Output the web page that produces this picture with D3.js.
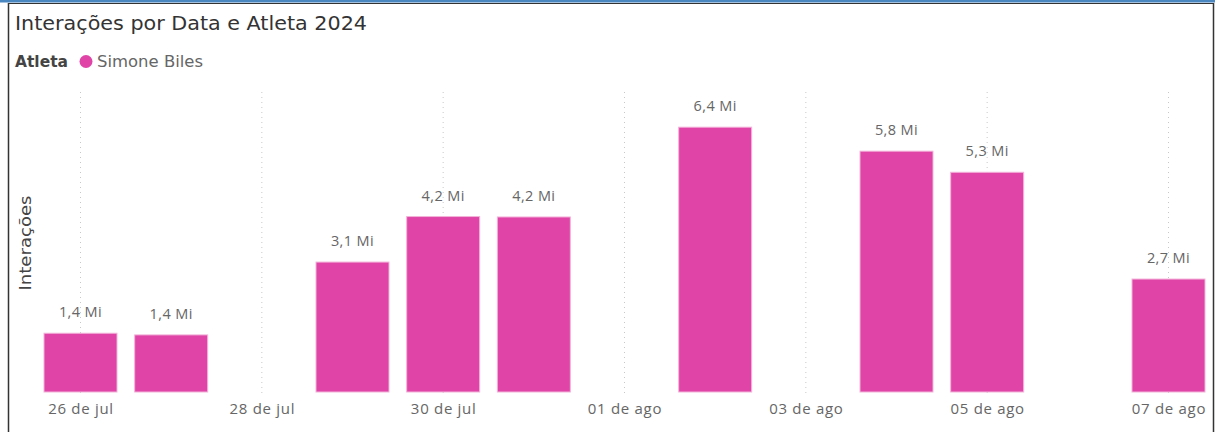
<!DOCTYPE html>
<html><head><meta charset="utf-8">
<script src="https://cdn.jsdelivr.net/npm/d3@7"></script>
<style>
html,body{margin:0;padding:0;background:#fff;}
svg{display:block;}
</style></head>
<body>
<svg id="chart" width="1218" height="432"></svg>
<script>
const dates = ["2024-07-26","2024-07-27","2024-07-29","2024-07-30","2024-07-31","2024-08-02","2024-08-04","2024-08-05","2024-08-07"];
const values = [1.42, 1.38, 3.14, 4.24, 4.23, 6.40, 5.82, 5.31, 2.73]; // milhões
const tickDates = ["2024-07-26","2024-07-28","2024-07-30","2024-08-01","2024-08-03","2024-08-05","2024-08-07"];
const monthNames = ["jan","fev","mar","abr","mai","jun","jul","ago","set","out","nov","dez"];
const seriesName = "Simone Biles";

const parse = d3.timeParse("%Y-%m-%d");
const data = dates.map((d,i)=>({date: parse(d), value: values[i]}));
const svg = d3.select("#chart");
const W = 1218, H = 432;

// frame
svg.append("rect").attr("x",0).attr("y",0).attr("width",1215).attr("height",2.5).attr("fill","#4a86c0");
svg.append("line").attr("x1",8.5).attr("x2",8.5).attr("y1",3).attr("y2",H).attr("stroke","#333").attr("stroke-width",1.5);
svg.append("line").attr("x1",1213.5).attr("x2",1213.5).attr("y1",3).attr("y2",H).attr("stroke","#333").attr("stroke-width",1.5);
svg.append("line").attr("x1",8).attr("x2",1214).attr("y1",3.5).attr("y2",3.5).attr("stroke","#333").attr("stroke-width",1);

const x = d3.scaleTime().domain([parse("2024-07-26"), parse("2024-08-07")]).range([80.5, 1168.5]);
const y = d3.scaleLinear().domain([0, 7.25]).range([392, 92]);
const dayW = x(parse("2024-07-27")) - x(parse("2024-07-26"));
const barW = dayW * 0.805;

// title
svg.append("text").attr("x",15).attr("y",30).text("Interações por Data e Atleta 2024")
  .attr("font-family","'DejaVu Sans'").attr("font-size",19).attr("fill","#333")
  .attr("textLength",352).attr("lengthAdjust","spacingAndGlyphs");
// legend
svg.append("text").attr("x",15).attr("y",67).text("Atleta")
  .attr("font-family","'DejaVu Sans'").attr("font-weight","bold").attr("font-size",15).attr("fill","#444")
  .attr("textLength",53).attr("lengthAdjust","spacingAndGlyphs");
svg.append("circle").attr("cx",86).attr("cy",61.5).attr("r",6.5).attr("fill","#E044A7");
svg.append("text").attr("x",97).attr("y",67).text(seriesName)
  .attr("font-family","'DejaVu Sans'").attr("font-size",15).attr("fill","#666")
  .attr("textLength",106).attr("lengthAdjust","spacingAndGlyphs");

// y title
svg.append("text").attr("transform","translate(31,243) rotate(-90)").attr("text-anchor","middle")
  .text("Interações").attr("font-family","'DejaVu Sans'").attr("font-size",15).attr("fill","#444")
  .attr("textLength",95).attr("lengthAdjust","spacingAndGlyphs");

// grid
const tickVals = tickDates.map(parse);
svg.append("g").selectAll("line").data(tickVals).join("line")
  .attr("x1",d=>x(d)).attr("x2",d=>x(d)).attr("y1",92).attr("y2",397)
  .attr("stroke","#c8c8c8").attr("stroke-dasharray","1,4");

// bars
svg.append("g").selectAll("rect").data(data).join("rect")
  .attr("x",d=>x(d.date)-barW/2).attr("width",barW)
  .attr("y",d=>y(d.value)).attr("height",d=>y(0)-y(d.value))
  .attr("fill","#E044A7").attr("stroke","#f2b3d9").attr("stroke-width",1);

// labels
const fmt = d3.format(".1f");
svg.append("g").selectAll("text").data(data).join("text")
  .attr("x",d=>x(d.date)).attr("y",d=>y(d.value)-16).attr("text-anchor","middle")
  .text(d=>fmt(d.value).replace(".",",")+" Mi")
  .attr("font-family","'Open Sans'").attr("font-size",14.5).attr("letter-spacing","0.4px").attr("fill","#666");

// x axis
const xAxis = d3.axisBottom(x).tickValues(tickVals).tickSize(0)
  .tickFormat(d=>d3.timeFormat("%d")(d)+" de "+monthNames[d.getMonth()]);
const gx = svg.append("g").attr("transform","translate(0,398)").call(xAxis);
gx.select(".domain").remove();
gx.selectAll("text").attr("font-family","'Open Sans'").attr("font-size",15).attr("letter-spacing","0.7px").attr("fill","#666").attr("dy","0.85em");
</script>
</body></html>
